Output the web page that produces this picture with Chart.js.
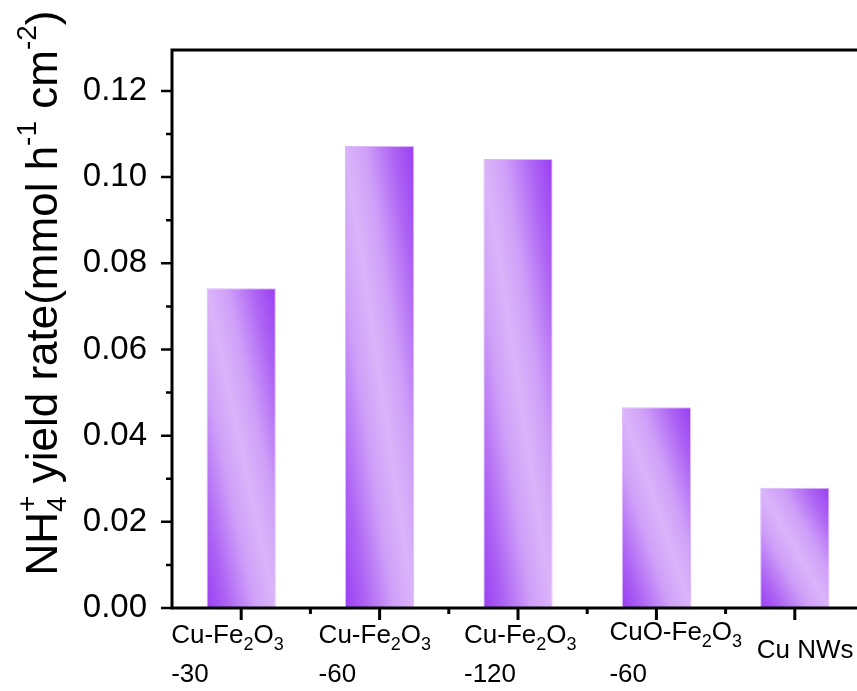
<!DOCTYPE html>
<html><head><meta charset="utf-8">
<script src="https://cdn.jsdelivr.net/npm/chart.js@4.4.1/dist/chart.umd.min.js"></script>
<style>
html,body{margin:0;padding:0;background:#fff;overflow:hidden;width:857px;height:691px}
#wrap{position:absolute;left:0;top:0;width:880px;height:691px}
</style>
</head><body><div id="wrap"><canvas id="c" width="880" height="691"></canvas></div>
<script>
// ---- data ----
const categories = ['Cu-Fe_2O_3|-30', 'Cu-Fe_2O_3|-60', 'Cu-Fe_2O_3|-120', 'CuO-Fe_2O_3|-60', 'Cu NWs'];
const yieldRates = [0.0742, 0.1072, 0.1042, 0.0466, 0.0279];
const yTickValues = [0, 0.02, 0.04, 0.06, 0.08, 0.10, 0.12];
const yTickLabels = ['0.00', '0.02', '0.04', '0.06', '0.08', '0.10', '0.12'];
const yMinorValues = [0.01, 0.03, 0.05, 0.07, 0.09, 0.11];
const yAxisTitle = 'NH_4^+ yield rate(mmol h^{-1} cm^{-2})';
const yMax = 0.1295;

// ---- style / layout ----
const FONT = "'Liberation Sans', Arial, sans-serif";
const labelDx = [-70, -61, -54, -47, -38];          // left start of each x label relative to its tick
const labelBase = [[643, 682], [643, 682], [643, 682], [640, 682], [658]];

function parseRich(s) {
  const out = [];
  let i = 0, buf = '';
  const flush = () => { if (buf) { out.push({ t: buf, k: 'n' }); buf = ''; } };
  while (i < s.length) {
    const c = s[i];
    if (c === '_' || c === '^') {
      flush();
      const k = c === '_' ? 'sub' : 'sup';
      let txt;
      if (s[i + 1] === '{') { const j = s.indexOf('}', i); txt = s.slice(i + 2, j); i = j + 1; }
      else { txt = s[i + 1]; i += 2; }
      out.push({ t: txt, k });
    } else { buf += c; i++; }
  }
  flush();
  return out;
}

function layoutRich(ctx, segs, o) {
  const items = []; let x = 0;
  for (let i = 0; i < segs.length; i++) {
    const s = segs[i];
    if (s.k === 'n') {
      ctx.font = o.size + 'px ' + FONT;
      const w = ctx.measureText(s.t).width;
      items.push({ ...s, x }); x += w;
    } else {
      ctx.font = o.small + 'px ' + FONT;
      const w = ctx.measureText(s.t).width;
      const n = segs[i + 1];
      if (s.k === 'sub' && n && n.k === 'sup') {
        const w2 = ctx.measureText(n.t).width;
        items.push({ ...s, x }); items.push({ ...n, x });
        x += Math.max(w, w2); i++;
      } else { items.push({ ...s, x }); x += w; }
    }
  }
  return { items, width: x };
}

function drawRich(ctx, segs, x0, y0, o) {
  const L = layoutRich(ctx, segs, o);
  ctx.textBaseline = 'alphabetic';
  ctx.textAlign = 'left';
  for (const it of L.items) {
    let dy = 0;
    if (it.k === 'n') ctx.font = o.size + 'px ' + FONT;
    else { ctx.font = o.small + 'px ' + FONT; dy = it.k === 'sub' ? o.subDy : o.supDy; }
    ctx.fillText(it.t, x0 + it.x, y0 + dy);
  }
  return L.width;
}

const decor = {
  id: 'decor',
  afterDraw(chart) {
    const ctx = chart.ctx, a = chart.chartArea, xs = chart.scales.x, ys = chart.scales.y;
    ctx.save();
    ctx.strokeStyle = '#000'; ctx.fillStyle = '#000';
    ctx.lineWidth = 3;
    ctx.beginPath();
    ctx.moveTo(a.left, a.top); ctx.lineTo(a.right + 20, a.top);
    ctx.moveTo(a.left, a.top - 1.5); ctx.lineTo(a.left, a.bottom + 1.5);
    ctx.moveTo(a.left - 1.5, a.bottom); ctx.lineTo(a.right + 20, a.bottom);
    ctx.stroke();
    ctx.lineWidth = 2.5;
    ctx.beginPath();
    yTickValues.forEach(v => { const y = ys.getPixelForValue(v); ctx.moveTo(a.left - 11, y); ctx.lineTo(a.left, y); });
    yMinorValues.forEach(v => { const y = ys.getPixelForValue(v); ctx.moveTo(a.left - 6, y); ctx.lineTo(a.left, y); });
    ctx.stroke();
    ctx.lineWidth = 3;
    ctx.beginPath();
    const step = xs.getPixelForValue(1) - xs.getPixelForValue(0);
    categories.forEach((c, i) => {
      const x = xs.getPixelForValue(i);
      ctx.moveTo(x, a.bottom); ctx.lineTo(x, a.bottom + 12);
      if (i < categories.length - 1) { ctx.moveTo(x + step / 2, a.bottom); ctx.lineTo(x + step / 2, a.bottom + 6); }
    });
    ctx.stroke();
    const xo = { size: 26, small: 18, subDy: 7, supDy: -10 };
    categories.forEach((c, i) => {
      const x = xs.getPixelForValue(i) + labelDx[i];
      c.split('|').forEach((line, j) => drawRich(ctx, parseRich(line), x, labelBase[i][j], xo));
    });
    const to = { size: 44, small: 28, subDy: 9, supDy: -21 };
    const segs = parseRich(yAxisTitle);
    const L = layoutRich(ctx, segs, to);
    ctx.translate(57, 293);
    ctx.rotate(-Math.PI / 2);
    drawRich(ctx, segs, -L.width / 2, 0, to);
    ctx.restore();
  }
};

function barGradient(c) {
  const ch = c.chart;
  if (!ch.chartArea || c.type !== 'data') return '#c08af5';
  const xs = ch.scales.x, ys = ch.scales.y;
  const i = c.dataIndex, v = c.raw;
  const cx = xs.getPixelForValue(i);
  const W = (xs.getPixelForValue(1) - xs.getPixelForValue(0)) * 0.5;
  const top = ys.getPixelForValue(v), bot = ys.getPixelForValue(0);
  const H = bot - top, cy = (top + bot) / 2;
  const k = W * H / (H * H + W * W);
  const g = ch.ctx.createLinearGradient(cx - H * k, cy + W * k, cx + H * k, cy - W * k);
  g.addColorStop(0, '#9a3ef2');
  g.addColorStop(0.15, '#ad62f4');
  g.addColorStop(0.35, '#cf9ff8');
  g.addColorStop(0.5, '#dab4fa');
  g.addColorStop(0.65, '#cf9ff8');
  g.addColorStop(0.85, '#ad62f4');
  g.addColorStop(1, '#9a3ef2');
  return g;
}

new Chart(document.getElementById('c'), {
  type: 'bar',
  data: {
    labels: categories,
    datasets: [{
      data: yieldRates,
      backgroundColor: barGradient,
      borderColor: '#dcb8fa',
      borderWidth: 1,
      barPercentage: 0.5,
      categoryPercentage: 1.0
    }]
  },
  options: {
    responsive: false, animation: false, devicePixelRatio: 1,
    layout: { padding: { left: 0, top: 50, right: 16, bottom: 0 } },
    plugins: { legend: { display: false }, tooltip: { enabled: false } },
    scales: {
      x: {
        type: 'category', offset: true,
        grid: { display: false, drawTicks: false },
        border: { display: false },
        ticks: { display: false },
        afterFit(s) { s.height = 83; }
      },
      y: {
        min: 0, max: yMax,
        grid: { display: false, drawTicks: false },
        border: { display: false },
        ticks: {
          autoSkip: false, padding: 25, color: '#000',
          font: { family: FONT, size: 33 },
          callback: (v, i) => yTickLabels[i]
        },
        afterBuildTicks(s) { s.ticks = yTickValues.map(v => ({ value: v })); },
        afterFit(s) { s.width = 172; }
      }
    }
  },
  plugins: [decor]
});
</script>
</body></html>
